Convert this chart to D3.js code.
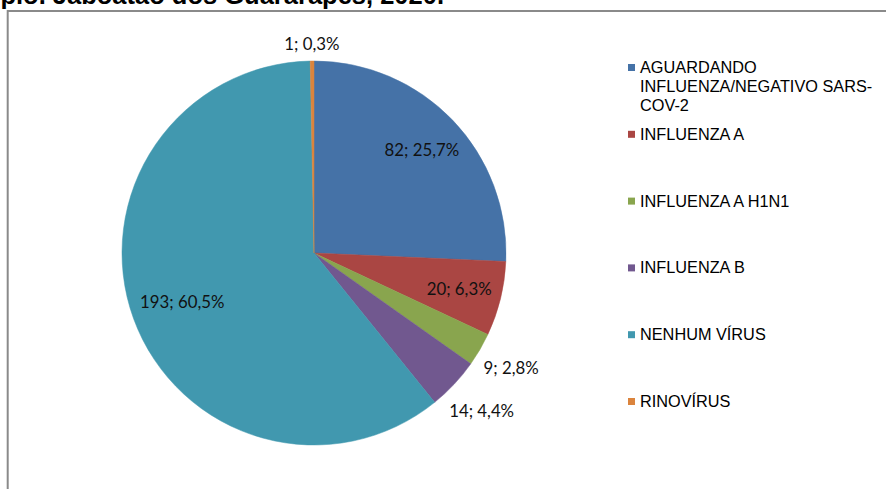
<!DOCTYPE html>
<html>
<head>
<meta charset="utf-8">
<script src="https://cdn.jsdelivr.net/npm/d3@7"></script>
<style>
  body { margin: 0; background: #fff; }
  svg { display: block; }
</style>
</head>
<body>
<div class="vis-pie"></div>
<script>
// data
const title = "Município. Jaboatão dos Guararapes, 2020.";
const categories = [
  "AGUARDANDO INFLUENZA/NEGATIVO SARS-COV-2",
  "INFLUENZA A",
  "INFLUENZA A H1N1",
  "INFLUENZA B",
  "NENHUM VÍRUS",
  "RINOVÍRUS"
];
const values = [82, 20, 9, 14, 193, 1];
const colors = ["#4572A7", "#AA4643", "#89A54E", "#71588F", "#4198AF", "#DB843D"];

const W = 886, H = 489;
const cx = 314, cy = 253, radius = 192;

const svg = d3.select(".vis-pie")
  .append("svg")
  .attr("width", W)
  .attr("height", H);

// chart frame (runs off the bottom / right of the window)
svg.append("rect")
  .attr("x", 7.7)
  .attr("y", 11)
  .attr("width", 920)
  .attr("height", 520)
  .attr("fill", "none")
  .attr("stroke", "#8a8a8a")
  .attr("stroke-width", 2);

// title, cut off at the top like the reference
svg.append("text")
  .attr("x", 444)
  .attr("y", 4)
  .attr("text-anchor", "end")
  .attr("font-family", "'Liberation Sans', Arial, sans-serif")
  .attr("font-weight", "bold")
  .attr("font-size", 25.5)
  .attr("fill", "#000")
  .text(title);

const total = d3.sum(values);
const locale = d3.formatLocale({ decimal: ",", thousands: ".", grouping: [3], currency: ["R$", ""] });
const pctFmt = locale.format(".1%");

const data = categories.map((c, i) => ({ name: c, value: values[i], color: colors[i] }));

const pie = d3.pie().sort(null).value(d => d.value).startAngle(0).endAngle(2 * Math.PI);
const arc = d3.arc().innerRadius(0).outerRadius(radius);
const arcs = pie(data);

const g = svg.append("g").attr("transform", `translate(${cx},${cy})`);

g.selectAll("path.slice")
  .data(arcs)
  .enter()
  .append("path")
  .attr("class", "slice")
  .attr("d", arc)
  .attr("fill", d => d.data.color)
  .attr("stroke", d => d.data.color)
  .attr("stroke-width", 0.5);

// data labels: big slices inside-end, small slices outside-end (like excel "best fit")
const labels = g.selectAll("text.lbl")
  .data(arcs)
  .enter()
  .append("text")
  .attr("class", "lbl")
  .attr("font-family", "Lato, 'Open Sans', sans-serif")
  .attr("font-size", 16.8)
  .attr("fill", "#111")
  .attr("text-anchor", "middle")
  .text(d => `${d.data.value}; ${pctFmt(d.data.value / total)}`);

labels.each(function (d) {
  const bb = this.getBBox();
  const hw = bb.width / 2, hh = bb.height / 2;
  const a = (d.startAngle + d.endAngle) / 2;
  const sx = Math.sin(a), sy = -Math.cos(a);
  const extra = hw * Math.abs(sx) + hh * Math.abs(sy);
  const share = d.data.value / total;
  const dist = share > 0.05 ? radius - 8.5 - extra : radius + 7 + extra;
  const px = sx * dist, py = sy * dist;
  d3.select(this)
    .attr("x", px)
    .attr("y", py - (bb.y + bb.height / 2));
});

// legend
const legend = svg.append("g").attr("transform", "translate(628,73)");
const step = 66.8, lineH = 19, maxW = 248;

const items = legend.selectAll("g.item")
  .data(data)
  .enter()
  .append("g")
  .attr("class", "item")
  .attr("transform", (d, i) => `translate(0,${i * step})`);

items.append("rect")
  .attr("x", 0)
  .attr("y", -9)
  .attr("width", 7)
  .attr("height", 7)
  .attr("fill", d => d.color);

items.append("text")
  .attr("x", 12)
  .attr("y", 0)
  .attr("font-family", "'Liberation Sans', Arial, sans-serif")
  .attr("font-size", 16.3)
  .attr("fill", "#000")
  .each(function (d) {
    // wrap after spaces and hyphens
    const el = d3.select(this);
    const tokens = d.name.split(/(?<=[ \-])/);
    let line = "";
    let lineNo = 0;
    let tspan = el.append("tspan").attr("x", 12).attr("y", 0);
    tokens.forEach(tok => {
      const test = line + tok;
      tspan.text(test.trimEnd());
      if (tspan.node().getComputedTextLength() > maxW && line !== "") {
        tspan.text(line.trimEnd());
        line = tok;
        lineNo++;
        tspan = el.append("tspan").attr("x", 12).attr("y", lineNo * lineH).text(tok.trimEnd());
      } else {
        line = test;
      }
    });
  });
</script>
</body>
</html>
